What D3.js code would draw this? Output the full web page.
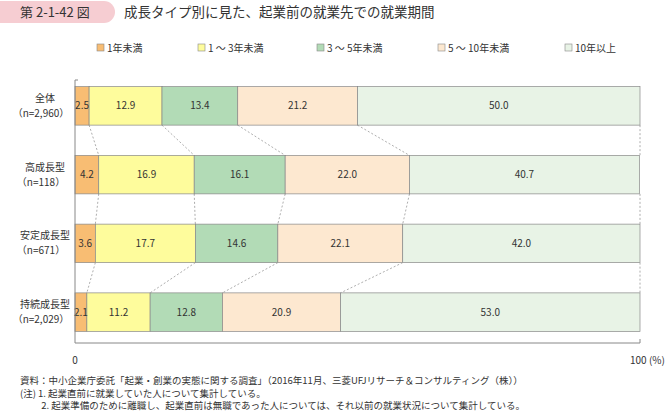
<!DOCTYPE html>
<html><head><meta charset="utf-8">
<script src="https://cdn.jsdelivr.net/npm/d3@7"></script>
<style>body{margin:0;background:#fff;font-family:"Noto Sans CJK JP",sans-serif;}</style>
</head><body><svg id="chart" width="667" height="411"></svg>
<script>
var groups = ["全体|（n=2,960）", "高成長型|（n=118）", "安定成長型|（n=671）", "持続成長型|（n=2,029）"];
var seriesNames = ["1年未満", "1～3年未満", "3～5年未満", "5～10年未満", "10年以上"];
var legendLabels = ["1年未満", "1 ～ 3年未満", "3 ～ 5年未満", "5 ～ 10年未満", "10年以上"];
var colors = ["#f8bd73", "#fefc9c", "#b2dbb6", "#fde8d0", "#e8f3e6"];
var values = [
  [2.5, 12.9, 13.4, 21.2, 50.0],
  [4.2, 16.9, 16.1, 22.0, 40.7],
  [3.6, 17.7, 14.6, 22.1, 42.0],
  [2.1, 11.2, 12.8, 20.9, 53.0]
];

var svg = d3.select("#chart");
var x = d3.scaleLinear().domain([0, 100]).range([75, 640]);
var y = d3.scaleBand().domain(groups).range([66, 352]).paddingInner(0.44).paddingOuter(0.3);

// header
svg.append("rect").attr("x", -10).attr("y", 1).attr("width", 125).attr("height", 22).attr("rx", 11)
  .attr("fill", "#f6cdd2");
svg.append("text").attr("x", 20).attr("y", 17).attr("font-size", 13).attr("fill", "#333").text("第 2-1-42 図");
svg.append("text").attr("x", 124).attr("y", 17).attr("font-size", 13.5).attr("fill", "#333")
  .text("成長タイプ別に見た、起業前の就業先での就業期間");

// legend
var lx = [97, 198, 317, 438, 565];
legendLabels.forEach(function(l, i) {
  svg.append("rect").attr("x", lx[i]).attr("y", 44).attr("width", 7).attr("height", 7)
    .attr("fill", colors[i]).attr("stroke", "#888").attr("stroke-width", 0.6);
  svg.append("text").attr("x", lx[i] + 10).attr("y", 51.5).attr("font-size", 10).attr("fill", "#333").text(l);
});

var stacked = values.map(function(v) {
  var acc = 0;
  return v.map(function(d) { var s = acc; acc += d; return {s: s, e: acc, v: d}; });
});

// connectors
for (var g = 0; g < groups.length - 1; g++) {
  for (var k = 0; k < 5; k++) {
    var a = k === 4 ? 100 : stacked[g][k].e, b = k === 4 ? 100 : stacked[g + 1][k].e;
    svg.append("line")
      .attr("x1", x(a)).attr("x2", x(b))
      .attr("y1", y(groups[g]) + y.bandwidth()).attr("y2", y(groups[g + 1]))
      .attr("stroke", "#777").attr("stroke-width", 0.6).attr("stroke-dasharray", "2,2");
  }
}

groups.forEach(function(gname, gi) {
  var row = svg.append("g");
  row.selectAll("rect").data(stacked[gi]).enter().append("rect")
    .attr("x", function(d) { return x(d.s); })
    .attr("width", function(d) { return x(d.e) - x(d.s); })
    .attr("y", y(gname)).attr("height", y.bandwidth())
    .attr("fill", function(d, i) { return colors[i]; })
    .attr("stroke", "#888").attr("stroke-width", 0.7);
  row.selectAll("text").data(stacked[gi]).enter().append("text")
    .attr("x", function(d) { return x((d.s + d.e) / 2); })
    .attr("y", y(gname) + y.bandwidth() / 2 + 3.5)
    .attr("text-anchor", "middle").attr("font-size", 10).attr("fill", "#333")
    .text(function(d) { return d.v.toFixed(1); });
  var parts = gname.split("|");
  var cy = y(gname) + y.bandwidth() / 2;
  svg.append("text").attr("x", 45).attr("y", cy - 4).attr("text-anchor", "middle")
    .attr("font-size", 10).attr("fill", "#333").text(parts[0]);
  svg.append("text").attr("x", 41).attr("y", cy + 11).attr("text-anchor", "middle")
    .attr("font-size", 10).attr("fill", "#333").text(parts[1]);
});

// axes
svg.append("line").attr("x1", x(0)).attr("x2", x(0)).attr("y1", 80).attr("y2", 343).attr("stroke", "#888");
svg.append("line").attr("x1", x(0)).attr("x2", x(100)).attr("y1", 343).attr("y2", 343).attr("stroke", "#888");
svg.append("line").attr("x1", x(100)).attr("x2", x(100)).attr("y1", 339).attr("y2", 343).attr("stroke", "#888");
svg.append("line").attr("x1", x(0)).attr("x2", x(0) + 3).attr("y1", 80).attr("y2", 80).attr("stroke", "#888");
svg.append("text").attr("x", x(0)).attr("y", 364).attr("text-anchor", "middle").attr("font-size", 10).attr("fill", "#333").text("0");
svg.append("text").attr("x", x(100) - 10).attr("y", 364).attr("font-size", 10).attr("fill", "#333").text("100 (%)");

// notes
var notes = ["資料：中小企業庁委託「起業・創業の実態に関する調査」（2016年11月、三菱UFJリサーチ＆コンサルティング（株））",
  "(注) 1. 起業直前に就業していた人について集計している。",
  "　　 2. 起業準備のために離職し、起業直前は無職であった人については、それ以前の就業状況について集計している。"];
notes.forEach(function(n, i) {
  svg.append("text").attr("x", 20).attr("y", 384 + i * 12.5).attr("font-size", 9.5).attr("fill", "#333").text(n);
});
</script></body></html>
